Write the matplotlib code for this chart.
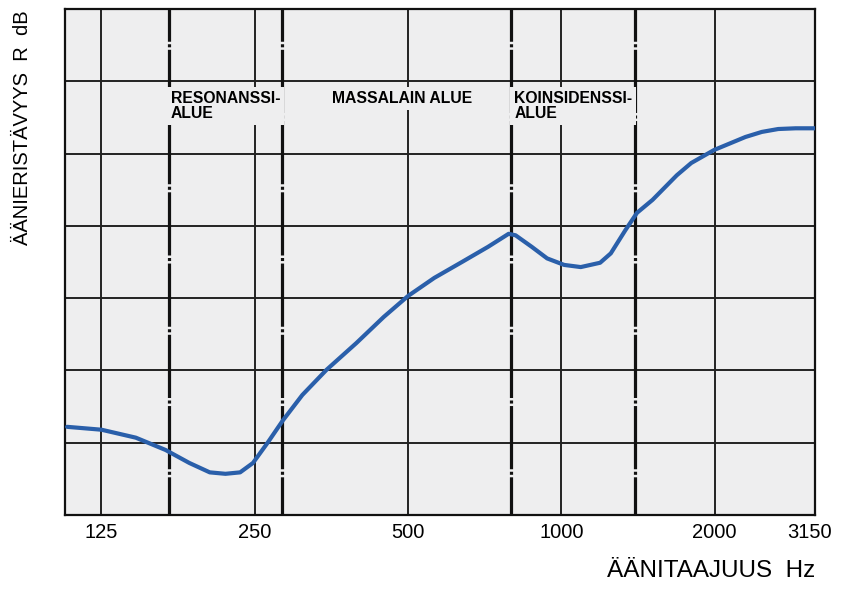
import matplotlib.pyplot as plt
from matplotlib.transforms import ScaledTranslation

plt.rcParams['font.family'] = ['Liberation Sans', 'DejaVu Sans']
plt.rcParams['lines.scale_dashes'] = False

# sound reduction curve (Hz, grid units)
freq = [107, 125, 146, 167, 186, 204, 219, 234, 248, 265, 284, 310, 346, 396, 448,
        500, 563, 638, 718, 788, 813, 875, 938, 1013, 1092, 1192, 1251, 1336, 1408,
        1511, 1686, 1800, 1996, 2300, 2477, 2667, 2886, 3150]
r_db = [1.22, 1.18, 1.07, 0.90, 0.72, 0.59, 0.57, 0.59, 0.72, 1.00, 1.31, 1.66, 2.01,
        2.38, 2.74, 3.03, 3.28, 3.50, 3.71, 3.89, 3.87, 3.71, 3.55, 3.46, 3.43, 3.49,
        3.62, 3.94, 4.18, 4.36, 4.70, 4.87, 5.05, 5.23, 5.30, 5.34, 5.35, 5.35]

tick_freqs = [125, 250, 500, 1000, 2000, 3150]
tick_labels = ['125', '250', '500', '1000', '2000', '3150']
region_bounds = [170, 283, 795, 1396]
region_labels = ['RESONANSSI-\nALUE', 'MASSALAIN ALUE', 'KOINSIDENSSI-\nALUE']
region_label_x = [171, 355, 808]

fig = plt.figure(figsize=(8.41, 5.90), dpi=100)
ax = fig.add_axes([0.0773, 0.1271, 0.8918, 0.8576])
ax.set_facecolor('#eeeeef')
ax.set_xscale('log')
ax.set_xlim(106, 3150)
ax.set_ylim(0, 7)

# grid
for y in range(1, 7):
    ax.axhline(y, color='#222222', lw=1.4, zorder=1)
for f in tick_freqs[:-1]:
    ax.axvline(f, color='#222222', lw=1.4, zorder=1)
for f in region_bounds:
    ax.plot([f, f], [0, 7], color='#111111', lw=2.3, zorder=2,
            linestyle=(18, (45.5, 1.8, 2.2, 1.8)))

for x, lab in zip(region_label_x, region_labels):
    ax.text(x, 5.87, lab, fontsize=11.3, fontweight='bold', va='top', ha='left',
            linespacing=1.0, zorder=3,
            bbox=dict(boxstyle='square,pad=0.25', fc='#eeeeef', ec='none'))

ax.plot(freq, r_db, color='#2a5faa', lw=3.0, solid_joinstyle='round',
        solid_capstyle='round', zorder=4)

ax.set_xticks(tick_freqs)
ax.set_xticklabels(tick_labels, fontsize=14.5)
ax.minorticks_off()
ax.tick_params(axis='x', length=0, pad=6)
last = ax.get_xticklabels()[-1]
last.set_transform(last.get_transform() + ScaledTranslation(-0.05, 0, fig.dpi_scale_trans))
ax.set_yticks([])
for s in ax.spines.values():
    s.set_linewidth(1.6)
    s.set_color('#111111')

fig.text(0.027, 0.983, 'ÄÄNIERISTÄVYYS  R  dB', rotation=90, fontsize=14.5,
         ha='center', va='top')
fig.text(0.969, 0.022, 'ÄÄNITAAJUUS  Hz', fontsize=17.5, ha='right', va='baseline')

fig.savefig('out.png', dpi=100)
